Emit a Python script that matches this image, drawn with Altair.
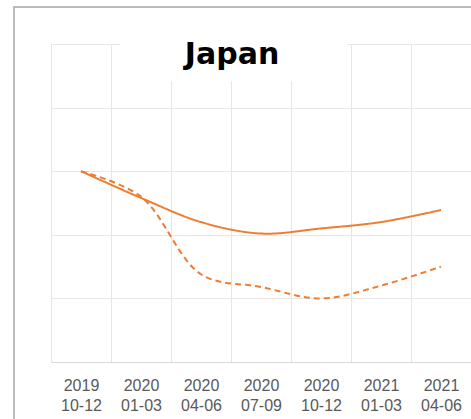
import altair as alt
import pandas as pd

# ---- data ----
periods = ["2019\n10-12", "2020\n01-03", "2020\n04-06", "2020\n07-09",
           "2020\n10-12", "2021\n01-03", "2021\n04-06"]
solid_values = [95.0, 92.9, 91.0, 90.1, 90.5, 91.0, 91.95]
dashed_values = [95.0, 93.0, 86.9, 85.9, 85.0, 86.0, 87.5]
series_names = ["baseline", "actual"]
y_ticks = [80, 85, 90, 95, 100, 105]
title_text = "Japan"

ORANGE = "#ED7D31"
GRID = "#e6e6e6"

rows = []
for p, v in zip(periods, solid_values):
    rows.append({"period": p, "value": v, "series": series_names[0]})
for p, v in zip(periods, dashed_values):
    rows.append({"period": p, "value": v, "series": series_names[1]})
df = pd.DataFrame(rows)

one = pd.DataFrame({"t": [title_text]})

x_enc = alt.X(
    "period:N", sort=periods,
    scale=alt.Scale(paddingInner=0, paddingOuter=0),
    axis=alt.Axis(
        title=None, grid=True, gridColor=GRID, gridWidth=1, tickBand="extent",
        ticks=False, domain=True, domainColor="#d9d9d9", domainWidth=1,
        labelExpr="split(datum.label, '\\n')", labelFont="Liberation Sans",
        labelFontSize=16, labelColor="#595959", labelLineHeight=20,
        labelPadding=15, labelAngle=0,
    ),
)
y_enc = alt.Y(
    "value:Q",
    scale=alt.Scale(domain=[y_ticks[0], y_ticks[-1]], nice=False, zero=False),
    axis=alt.Axis(title=None, values=y_ticks, labels=False, ticks=False,
                  domain=False, grid=True, gridColor=GRID, gridWidth=1),
)

lines = alt.Chart(df).mark_line(color=ORANGE, strokeWidth=2, interpolate="catmull-rom").encode(
    x=x_enc,
    y=y_enc,
    strokeDash=alt.StrokeDash(
        "series:N",
        scale=alt.Scale(domain=series_names, range=[[1, 0], [6, 4]]),
        legend=None,
    ),
)

border = alt.Chart(one).mark_rect(fill="white", fillOpacity=0, stroke="#a6a6a6", strokeWidth=1.5).encode(
    x=alt.value(-37), x2=alt.value(500), y=alt.value(-37), y2=alt.value(420)
)

title_box = alt.Chart(one).mark_rect(fill="white").encode(
    x=alt.value(69), x2=alt.value(296), y=alt.value(-7), y2=alt.value(37)
)

title = alt.Chart(one).mark_text(
    font="DejaVu Sans", fontWeight="bold", fontSize=30, color="black",
    align="center", baseline="alphabetic",
).encode(x=alt.value(181), y=alt.value(20), text="t:N")

chart = alt.layer(border, lines, title_box, title).properties(
    width=420, height=318,
    padding={"left": 51, "top": 44, "right": 0, "bottom": 57},
    autosize=alt.AutoSizeParams(type="none"),
).configure_view(stroke=None).configure(background="white")

chart.save("out.html", embed_options={"renderer": "svg", "actions": False})
